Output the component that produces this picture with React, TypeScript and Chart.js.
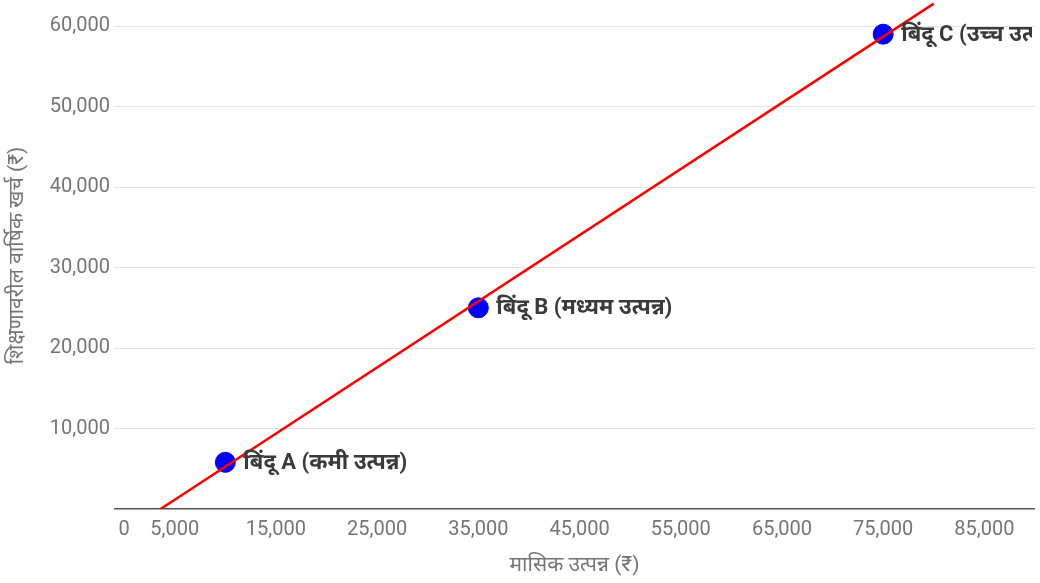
import React, { useEffect, useRef } from "react";
import { Chart, registerables } from "chart.js";

Chart.register(...registerables);

// Data
const pointLabels = [
  "बिंदू A (कमी उत्पन्न)",
  "बिंदू B (मध्यम उत्पन्न)",
  "बिंदू C (उच्च उत्पन्न)",
];
const monthlyIncome = [10000, 35000, 75000];
const educationSpend = [5800, 25000, 59000];

// Trend line end points (as seen on the chart)
const trendX = [3600, 80000];
const trendY = [0, 62800];

const xTicks = [0, 5000, 15000, 25000, 35000, 45000, 55000, 65000, 75000, 85000];
const yTicks = [0, 10000, 20000, 30000, 40000, 50000, 60000];

const xTitle = "मासिक उत्पन्न (₹)";
const yTitle = "शिक्षणावरील वार्षिक खर्च (₹)";

const FONT = "Roboto, 'Noto Sans', sans-serif";

const labelPlugin = {
  id: "pointLabels",
  afterDatasetsDraw(chart: any) {
    const meta = chart.getDatasetMeta(0);
    const ctx = chart.ctx;
    const area = chart.chartArea;
    ctx.save();
    ctx.beginPath();
    ctx.rect(0, 0, area.right - 3, chart.height);
    ctx.clip();
    ctx.font = `bold 22px ${FONT}`;
    ctx.fillStyle = "#3a3a3a";
    ctx.textAlign = "left";
    ctx.textBaseline = "middle";
    meta.data.forEach((el: any, i: number) => {
      ctx.fillText(pointLabels[i], el.x + 18, el.y + 1);
    });
    ctx.restore();
  },
};

export default function App() {
  const ref = useRef<HTMLCanvasElement>(null);

  useEffect(() => {
    document.body.style.margin = "0";
    const canvas = ref.current!;
    const fmt = (v: number) => v.toLocaleString("en-US");
    const chart = new Chart(canvas, {
      type: "scatter",
      data: {
        datasets: [
          {
            label: "points",
            data: monthlyIncome.map((x, i) => ({ x, y: educationSpend[i] })),
            backgroundColor: "#0000ff",
            borderColor: "#0000ff",
            pointRadius: 10,
            pointHoverRadius: 10,
            order: 2,
          },
          {
            label: "trend",
            data: trendX.map((x, i) => ({ x, y: trendY[i] })),
            showLine: true,
            borderColor: "#ff0000",
            backgroundColor: "#ff0000",
            borderWidth: 2.5,
            pointRadius: 0,
            order: 1,
          },
        ],
      },
      options: {
        responsive: false,
        animation: false,
        layout: { autoPadding: false, padding: { top: 2, right: 5, left: 0, bottom: 0 } },
        plugins: {
          legend: { display: false },
          tooltip: { enabled: false },
        },
        scales: {
          x: {
            type: "linear",
            min: -1000,
            max: 90000,
            afterBuildTicks: (s: any) => {
              s.ticks = xTicks.map((value) => ({ value }));
            },
            afterFit: (s: any) => {
              s.height = 74;
              s.paddingLeft = 0;
              s.paddingRight = 0;
            },
            grid: { display: false, drawTicks: false },
            border: { display: false },
            ticks: {
              padding: 9,
              color: "#757575",
              font: { family: FONT, size: 20 },
              maxRotation: 0,
              autoSkip: false,
              callback: (v: any) => fmt(Number(v)),
            },
            title: {
              display: true,
              text: xTitle,
              color: "#757575",
              font: { family: FONT, size: 21 },
              padding: { top: 0, bottom: 5 },
            },
          },
          y: {
            type: "linear",
            min: 0,
            max: 63000,
            afterBuildTicks: (s: any) => {
              s.ticks = yTicks.map((value) => ({ value }));
            },
            afterFit: (s: any) => {
              s.width = 114;
              s.paddingTop = 0;
              s.paddingBottom = 0;
            },
            grid: {
              drawTicks: false,
              color: (c: any) => (c.tick && c.tick.value === 0 ? "#555555" : "#e2e2e2"),
              lineWidth: (c: any) => (c.tick && c.tick.value === 0 ? 1.5 : 1),
            },
            border: { display: false },
            ticks: {
              padding: 4,
              color: "#757575",
              font: { family: FONT, size: 20 },
              callback: (v: any) => (Number(v) === 0 ? "" : fmt(Number(v))),
            },
            title: {
              display: true,
              text: yTitle,
              color: "#757575",
              font: { family: FONT, size: 21 },
              padding: { top: 5, bottom: 0 },
            },
          },
        },
      },
      plugins: [labelPlugin],
    });
    return () => chart.destroy();
  }, []);

  return (
    <div style={{ position: "absolute", left: 0, top: 0, width: 1040, height: 583, background: "#fff" }}>
      <canvas ref={ref} width={1040} height={583} />
    </div>
  );
}
